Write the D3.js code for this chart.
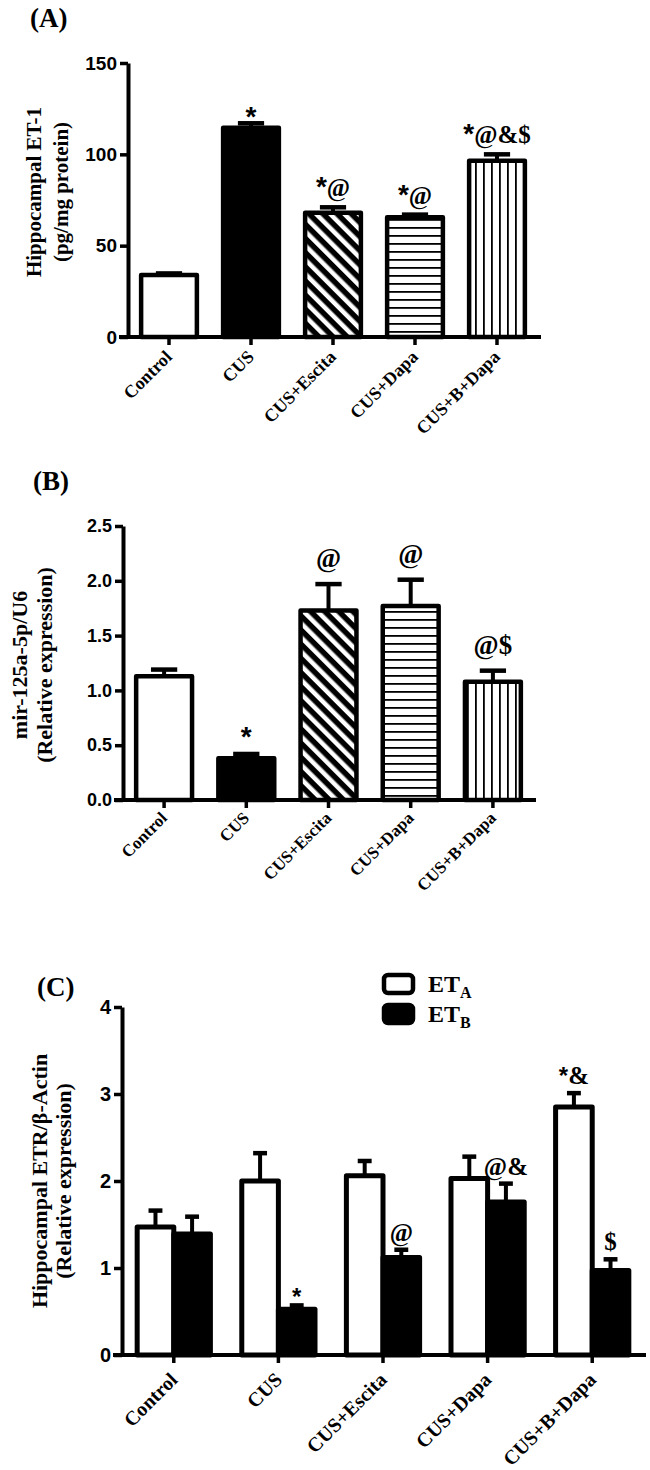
<!DOCTYPE html>
<html>
<head>
<meta charset="utf-8">
<script src="https://cdn.jsdelivr.net/npm/d3@7"></script>
<style>
  body { margin: 0; background: #fff; }
</style>
</head>
<body>
<svg id="fig"></svg>
<script>
// data
const groups = ["Control", "CUS", "CUS+Escita", "CUS+Dapa", "CUS+B+Dapa"];

const et1Mean = [34, 114.5, 68, 65.5, 96.5];
const et1Sem = [0.8, 2.5, 3, 1.5, 3.5];
const et1Ann = ["", "*", "*@", "*@", "*@&$"];
const et1Ticks = [0, 50, 100, 150];

const mirMean = [1.13, 0.38, 1.73, 1.77, 1.08];
const mirSem = [0.06, 0.04, 0.24, 0.24, 0.1];
const mirAnn = ["", "*", "@", "@", "@$"];
const mirTicks = [0, 0.5, 1.0, 1.5, 2.0, 2.5];

const series = ["ETA", "ETB"];
const etaMean = [1.47, 2.0, 2.06, 2.03, 2.85];
const etaSem = [0.19, 0.32, 0.17, 0.25, 0.16];
const etaAnn = ["", "", "", "", "*&"];
const etbMean = [1.39, 0.525, 1.12, 1.76, 0.97];
const etbSem = [0.2, 0.045, 0.09, 0.21, 0.13];
const etbAnn = ["", "*", "@", "@&", "$"];
const etrTicks = [0, 1, 2, 3, 4];

const serif = "'Liberation Serif','Times New Roman',serif";
const sans = "'Liberation Sans',Arial,sans-serif";
const fills = ["#fff", "#000", "url(#diag)", "url(#hlines)", "url(#vlines)"];

const svg = d3.select("#fig").attr("width", 650).attr("height", 1470);

// hatch patterns
const defs = svg.append("defs");
const diag = defs.append("pattern").attr("id", "diag")
  .attr("patternUnits", "userSpaceOnUse").attr("width", 10).attr("height", 10)
  .attr("patternTransform", "rotate(-45)");
diag.append("rect").attr("width", 10).attr("height", 10).attr("fill", "#000");
diag.append("rect").attr("width", 4.5).attr("height", 10).attr("fill", "#fff");

const hl = defs.append("pattern").attr("id", "hlines")
  .attr("patternUnits", "userSpaceOnUse").attr("width", 8).attr("height", 8);
hl.append("rect").attr("width", 8).attr("height", 8).attr("fill", "#fff");
hl.append("rect").attr("y", 3).attr("width", 8).attr("height", 1.8).attr("fill", "#000");

const vl = defs.append("pattern").attr("id", "vlines")
  .attr("patternUnits", "userSpaceOnUse").attr("width", 8).attr("height", 8);
vl.append("rect").attr("width", 8).attr("height", 8).attr("fill", "#fff");
vl.append("rect").attr("x", 3).attr("width", 1.8).attr("height", 8).attr("fill", "#000");

// annotation text: stars in sans, the rest in serif
function annotate(g, x, yErr, str, o) {
  if (!str) return;
  const alone = str === "*";
  const t = g.append("text").attr("x", x)
    .attr("y", yErr + (alone ? o.starOff : o.annOff))
    .attr("text-anchor", "middle").attr("font-weight", "bold");
  [...str].forEach(ch => {
    const star = ch === "*";
    t.append("tspan").text(ch)
      .attr("font-family", star ? sans : serif)
      .attr("font-size", star ? o.starSize : o.annSize);
  });
}

function errBar(g, cx, yTop, yErr, capW) {
  g.append("line").attr("x1", cx).attr("x2", cx).attr("y1", yTop).attr("y2", yErr)
    .attr("stroke", "#000").attr("stroke-width", 4);
  g.append("line").attr("x1", cx - capW / 2).attr("x2", cx + capW / 2)
    .attr("y1", yErr).attr("y2", yErr)
    .attr("stroke", "#000").attr("stroke-width", 4.5);
}

function drawAxes(g, o, y, centers) {
  const ya = d3.axisLeft(y).tickValues(o.ticks).tickFormat(o.fmt)
    .tickSize(8).tickSizeOuter(0).tickPadding(3);
  const ag = g.append("g").attr("transform", `translate(${o.axisX},0)`).call(ya);
  ag.select(".domain").attr("stroke-width", 4);
  ag.selectAll(".tick line").attr("stroke-width", 3.5);
  ag.selectAll(".tick text").attr("font-family", sans).attr("font-weight", "bold")
    .attr("font-size", o.tickSize);

  g.append("line").attr("x1", o.axisX - 9).attr("x2", o.xEnd)
    .attr("y1", o.y0).attr("y2", o.y0).attr("stroke", "#000").attr("stroke-width", 4);
  centers.forEach((c, i) => {
    g.append("line").attr("x1", c).attr("x2", c).attr("y1", o.y0).attr("y2", o.y0 + 8)
      .attr("stroke", "#000").attr("stroke-width", 3.5);
    g.append("text").text(groups[i])
      .attr("transform", `translate(${c + o.lab[0]},${o.y0 + o.lab[1]}) rotate(-45)`)
      .attr("text-anchor", "end").attr("font-family", serif).attr("font-weight", "bold")
      .attr("font-size", o.labSize);
  });

  o.title.forEach((line, i) => {
    g.append("text").text(line)
      .attr("transform", `translate(${o.titleX[i]},${o.titleY}) rotate(-90)`)
      .attr("text-anchor", "middle").attr("font-family", serif).attr("font-weight", "bold")
      .attr("font-size", o.titleSize);
  });
  g.append("text").text(o.panel).attr("x", o.panelX).attr("y", o.panelY)
    .attr("font-family", serif).attr("font-weight", "bold").attr("font-size", 27);
}

function singlePanel(o, means, sems, anns) {
  const g = svg.append("g");
  const y = d3.scaleLinear().domain([o.ticks[0], o.ticks[o.ticks.length - 1]]).range([o.y0, o.yTop]);
  const x = d3.scaleBand().domain(groups).range([o.axisX, o.axisX + o.step * 5])
    .paddingInner(0.32).paddingOuter(0.16);
  const bw = x.bandwidth();

  g.selectAll("rect.bar").data(groups).join("rect").attr("class", "bar")
    .attr("x", d => x(d)).attr("width", bw)
    .attr("y", (d, i) => y(means[i])).attr("height", (d, i) => o.y0 - y(means[i]))
    .attr("fill", (d, i) => fills[i]).attr("stroke", "#000").attr("stroke-width", 4.5)
    .attr("stroke-linejoin", "round");

  groups.forEach((d, i) => {
    const cx = x(d) + bw / 2;
    errBar(g, cx, y(means[i]), y(means[i] + sems[i]), bw * 0.47);
    annotate(g, cx, y(means[i] + sems[i]), anns[i], o);
  });

  drawAxes(g, o, y, groups.map(d => x(d) + bw / 2));
}

// (A)
singlePanel({
  panel: "(A)", panelX: 30, panelY: 27,
  y0: 337, yTop: 63, axisX: 128, xEnd: 541, step: 82,
  ticks: et1Ticks, fmt: d3.format("d"), tickSize: 19,
  title: ["Hippocampal ET-1", "(pg/mg protein)"], titleX: [41, 68], titleY: 192, titleSize: 21,
  lab: [4, 21], labSize: 18,
  annSize: 25, starSize: 28, annOff: -11, starOff: 3
}, et1Mean, et1Sem, et1Ann);

// (B)
singlePanel({
  panel: "(B)", panelX: 33, panelY: 490,
  y0: 800, yTop: 526, axisX: 123, xEnd: 536, step: 82.2,
  ticks: mirTicks, fmt: d3.format(".1f"), tickSize: 18,
  title: ["mir-125a-5p/U6", "(Relative expression)"], titleX: [27, 52], titleY: 665, titleSize: 22,
  lab: [4, 19], labSize: 17,
  annSize: 27, starSize: 28, annOff: -17, starOff: -8
}, mirMean, mirSem, mirAnn);

// (C) grouped
(function () {
  const o = {
    panel: "(C)", panelX: 37, panelY: 996,
    y0: 1355, yTop: 1007, axisX: 122, xEnd: 646, step: 104.4,
    ticks: etrTicks, fmt: d3.format("d"), tickSize: 20,
    title: ["Hippocampal ETR/β-Actin", "(Relative expression)"], titleX: [47, 71], titleY: 1181, titleSize: 22,
    lab: [5, 26], labSize: 20,
    annSize: 25, starSize: 24, annOff: -9, starOff: 0
  };
  const g = svg.append("g");
  const y = d3.scaleLinear().domain([0, 4]).range([o.y0, o.yTop]);
  const x0 = d3.scaleBand().domain(groups).range([o.axisX, o.axisX + o.step * 5])
    .paddingInner(0.30).paddingOuter(0.145);
  const x1 = d3.scaleBand().domain(series).range([0, x0.bandwidth()]);
  const bw = x1.bandwidth();
  const means = { ETA: etaMean, ETB: etbMean };
  const sems = { ETA: etaSem, ETB: etbSem };
  const anns = { ETA: etaAnn, ETB: etbAnn };

  series.forEach(s => {
    g.selectAll(null).data(groups).join("rect")
      .attr("x", d => x0(d) + x1(s)).attr("width", bw)
      .attr("y", (d, i) => y(means[s][i])).attr("height", (d, i) => o.y0 - y(means[s][i]))
      .attr("fill", s === "ETA" ? "#fff" : "#000")
      .attr("stroke", "#000").attr("stroke-width", 5).attr("stroke-linejoin", "round");
  });
  series.forEach(s => {
    groups.forEach((d, i) => {
      const cx = x0(d) + x1(s) + bw / 2;
      errBar(g, cx, y(means[s][i]), y(means[s][i] + sems[s][i]), bw * 0.38);
      annotate(g, cx, y(means[s][i] + sems[s][i]), anns[s][i], o);
    });
  });

  drawAxes(g, o, y, groups.map(d => x0(d) + x0.bandwidth() / 2));

  // legend
  const lg = g.append("g").attr("transform", "translate(384,975)");
  [["#fff", "A"], ["#000", "B"]].forEach(([f, sub], i) => {
    lg.append("rect").attr("x", 0).attr("y", i * 30).attr("width", 29).attr("height", 18)
      .attr("rx", 4).attr("fill", f).attr("stroke", "#000").attr("stroke-width", 4.5);
    const t = lg.append("text").attr("x", 44).attr("y", i * 30 + 17)
      .attr("font-family", serif).attr("font-weight", "bold").attr("font-size", 24);
    t.append("tspan").text("ET");
    t.append("tspan").text(sub).attr("font-size", 16).attr("dy", 6);
  });
})();
</script>
</body>
</html>
